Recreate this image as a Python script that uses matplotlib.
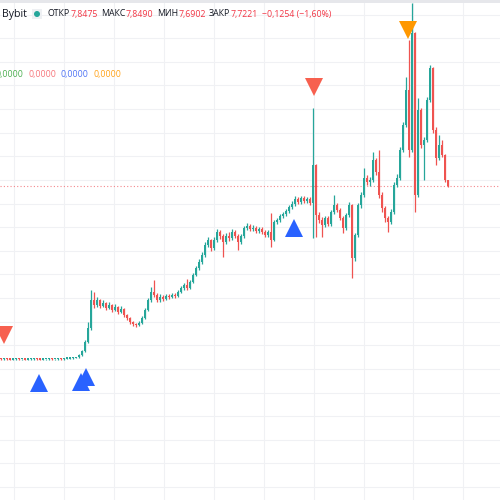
import matplotlib
matplotlib.use("Agg")
import matplotlib.pyplot as plt
import numpy as np

plt.rcParams['font.family'] = ['Open Sans', 'DejaVu Sans']

# candles (price), open = previous close
first_open = 4.27
closes = [
    4.26, 4.27, 4.26, 4.25, 4.26, 4.27, 4.26, 4.26, 4.25, 4.26,
    4.26, 4.27, 4.26, 4.25, 4.26, 4.26, 4.27, 4.26, 4.26, 4.27,
    4.26, 4.27, 4.27, 4.28, 4.28, 4.30, 4.34, 4.42, 4.60, 4.88,
    5.44, 5.34, 5.44, 5.32, 5.38, 5.28, 5.34, 5.24, 5.30, 5.20,
    5.26, 5.14, 5.08, 5.00, 4.96, 4.94, 4.98, 5.08, 5.24, 5.44,
    5.60, 5.54, 5.44, 5.50, 5.46, 5.52, 5.50, 5.54, 5.52, 5.60,
    5.68, 5.74, 5.68, 5.80, 5.94, 6.08, 6.20, 6.34, 6.54, 6.64,
    6.48, 6.64, 6.80, 6.72, 6.60, 6.72, 6.68, 6.80, 6.72, 6.60,
    6.72, 6.88, 6.92, 6.86, 6.88, 6.82, 6.86, 6.80, 6.74, 6.80,
    6.64, 7.00, 7.04, 7.12, 7.16, 7.22, 7.30, 7.36, 7.46, 7.40,
    7.48, 7.42, 7.46, 7.38, 8.14, 7.14, 7.04, 6.94, 7.08, 6.96,
    7.20, 7.34, 7.24, 7.08, 6.88, 7.14, 7.34, 6.28, 6.74, 7.34,
    7.54, 7.88, 7.80, 7.84, 8.24, 8.00, 7.54, 7.28, 7.08, 7.00,
    7.20, 7.74, 7.88, 8.44, 8.94, 9.64, 8.44, 10.78, 7.54, 9.24,
    8.54, 8.64, 9.44, 10.08, 8.84, 8.28, 8.54, 8.34, 7.8475, 7.7221,
]
highs = [
    4.28, 4.28, 4.28, 4.27, 4.27, 4.28, 4.28, 4.27, 4.27, 4.27,
    4.28, 4.28, 4.28, 4.27, 4.27, 4.27, 4.28, 4.28, 4.27, 4.28,
    4.28, 4.28, 4.29, 4.29, 4.30, 4.31, 4.36, 4.45, 4.64, 5.00,
    5.64, 5.60, 5.50, 5.46, 5.44, 5.40, 5.40, 5.36, 5.36, 5.32,
    5.32, 5.28, 5.16, 5.10, 5.02, 4.99, 5.02, 5.12, 5.28, 5.48,
    5.70, 5.84, 5.58, 5.56, 5.54, 5.56, 5.56, 5.58, 5.58, 5.64,
    5.72, 5.78, 5.86, 5.84, 5.98, 6.12, 6.26, 6.40, 6.60, 6.70,
    6.66, 6.70, 6.86, 6.84, 6.76, 6.78, 6.80, 6.86, 6.84, 6.76,
    6.76, 6.92, 6.98, 6.96, 6.94, 6.92, 6.90, 6.90, 6.84, 6.84,
    7.18, 7.04, 7.08, 7.16, 7.20, 7.26, 7.34, 7.42, 7.52, 7.50,
    7.52, 7.52, 7.50, 7.50, 9.28, 8.16, 7.20, 7.10, 7.12, 7.12,
    7.24, 7.54, 7.38, 7.28, 7.12, 7.18, 7.40, 7.36, 6.78, 7.38,
    7.60, 8.08, 7.94, 7.90, 8.40, 8.28, 8.44, 7.60, 7.32, 7.12,
    7.26, 7.80, 7.96, 8.50, 9.00, 9.90, 10.64, 11.38, 10.80, 9.48,
    9.28, 8.70, 9.50, 10.14, 10.10, 8.90, 8.74, 8.64, 8.36, 7.849,
]
lows = [
    4.25, 4.25, 4.25, 4.24, 4.24, 4.25, 4.25, 4.25, 4.24, 4.24,
    4.25, 4.25, 4.25, 4.24, 4.24, 4.25, 4.25, 4.25, 4.25, 4.25,
    4.25, 4.25, 4.26, 4.26, 4.27, 4.28, 4.29, 4.33, 4.40, 4.58,
    4.84, 5.28, 5.30, 5.28, 5.30, 5.24, 5.26, 5.20, 5.22, 5.16,
    5.18, 5.10, 5.04, 4.96, 4.92, 4.90, 4.92, 4.96, 5.06, 5.22,
    5.40, 5.50, 5.40, 5.40, 5.42, 5.44, 5.46, 5.48, 5.48, 5.50,
    5.58, 5.64, 5.64, 5.66, 5.78, 5.92, 6.04, 6.16, 6.30, 6.50,
    6.42, 6.44, 6.60, 6.66, 6.30, 6.56, 6.62, 6.64, 6.68, 6.44,
    6.56, 6.68, 6.84, 6.82, 6.82, 6.78, 6.78, 6.76, 6.70, 6.70,
    6.50, 6.62, 6.96, 7.00, 7.08, 7.12, 7.18, 7.26, 7.32, 7.36,
    7.36, 7.38, 7.38, 7.34, 6.68, 6.70, 6.98, 6.70, 6.90, 6.92,
    6.92, 7.16, 7.20, 7.04, 6.78, 6.84, 7.10, 5.88, 6.22, 6.70,
    7.28, 7.50, 7.74, 7.72, 7.80, 7.94, 7.48, 7.20, 7.00, 6.80,
    6.96, 7.16, 7.70, 7.84, 8.40, 8.90, 8.30, 8.40, 7.20, 7.50,
    8.48, 7.84, 8.60, 9.40, 8.78, 8.14, 8.24, 8.30, 7.80, 7.6902,
]

# signal markers: (bar index, price)
buy_idx = [12.7, 26.7, 28.3, 97.7]
buy_px = [3.78, 3.80, 3.90, 6.88]
sell_idx = [1.0, 104.3]
sell_px = [4.74, 9.70]
top_idx = [135.7]
top_px = [10.84]

# legend header
ohlc_labels = ['ОТКР', 'МАКС', 'МИН', 'ЗАКР']
ohlc_values = ['7,8475', '7,8490', '7,6902', '7,7221']
change_text = '−0,1254 (−1,60%)'
ind_values = ['0,0000', '0,0000', '0,0000', '0,0000']
ind_colors = ['#4caf50', '#f7777c', '#4f74f5', '#ffa31a']

opens = [first_open] + closes[:-1]
n = len(closes)
idx = np.arange(n)

UP = '#26a69a'
DOWN = '#ef5350'
RED = '#f23645'
DARK = '#131722'

fig = plt.figure(figsize=(5, 5), dpi=100)
ax = fig.add_axes([0, 0, 1, 1])
ax.set_xlim(-1 / 3, 499 / 3)
ax.set_ylim(1.44, 11.44)
ax.axis('off')

# grid
for gx in np.arange(13.3 / 3, 170, 49.9 / 3):
    ax.axvline(gx, color='#f0f1f4', lw=0.8, zorder=0)
for gy in np.arange(9.26 + 0.4725 * 5, 1.0, -0.4725):
    ax.axhline(gy, color='#f0f1f4', lw=0.8, zorder=0)

# last close line
ax.axhline(closes[-1], color='#f4878c', lw=0.8, ls=(0, (1, 2)), zorder=1)

cols = [UP if c >= o else DOWN for o, c in zip(opens, closes)]
ax.vlines(idx, lows, highs, colors=cols, lw=0.9, zorder=2)
bottoms = [min(o, c) for o, c in zip(opens, closes)]
heights = [max(abs(c - o), 0.03) for o, c in zip(opens, closes)]
ax.bar(idx, heights, bottom=bottoms, width=0.85, color=cols, lw=0, zorder=3)

ax.plot(buy_idx, buy_px, ls='none', marker='^', ms=12.5, color='#2962ff', mew=0, zorder=4)
ax.plot(sell_idx, sell_px, ls='none', marker='v', ms=12.5, color='#f7604f', mew=0, zorder=4)
ax.plot(top_idx, top_px, ls='none', marker='v', ms=12.5, color='#ff9800', mew=0, zorder=4)

# top border
fig.add_artist(plt.Rectangle((0, 1 - 3 / 500), 1, 3 / 500, transform=fig.transFigure,
                             color='#e6e7eb', lw=0))

renderer = fig.canvas.get_renderer()


def ftext(x, y, s, color, size=6.3):
    t = fig.text(x / 500, 1 - y / 500, s, color=color, fontsize=size, va='center', ha='left')
    return x + t.get_window_extent(renderer).width


ftext(2, 14, 'Bybit', DARK, size=7.6)
fig.add_artist(plt.Rectangle((32 / 500, 1 - 19 / 500), 10 / 500, 10 / 500,
                             transform=fig.transFigure, color='#eef0f3', lw=0))
fig.add_artist(plt.Circle((37 / 500, 1 - 14 / 500), 3 / 500, transform=fig.transFigure,
                          color=UP, lw=0))
x = 48
for lab, val in zip(ohlc_labels, ohlc_values):
    x = ftext(x, 14, lab, DARK)
    x = ftext(x + 0.5, 14, val, RED) + 3
ftext(x + 1, 14, change_text, RED)

x = -4
for val, c in zip(ind_values, ind_colors):
    x = ftext(x, 74, val, c) + 4.5

fig.savefig('out.png', dpi=100)
